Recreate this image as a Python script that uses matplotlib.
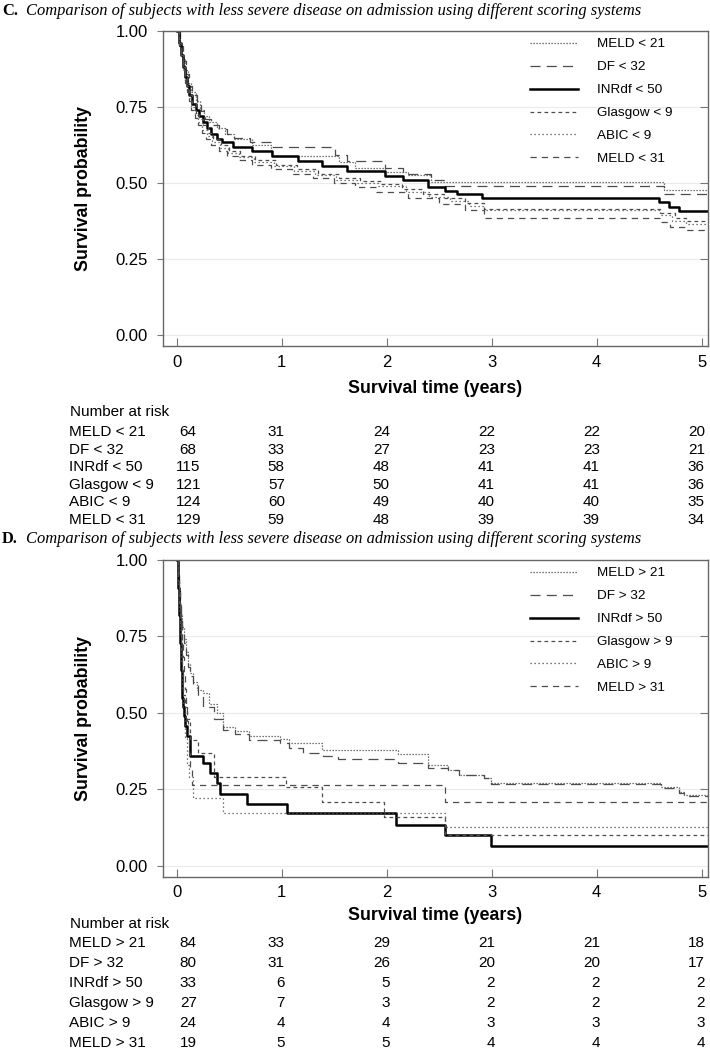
import matplotlib
matplotlib.use("Agg")
import matplotlib.pyplot as plt
import matplotlib.transforms as mtransforms
from matplotlib.lines import Line2D

plt.rcParams['font.family'] = ['Liberation Sans', 'DejaVu Sans']

W, H = 710, 1050
years = [0, 1, 2, 3, 4, 5]
end_time = 5.06
title_text = "Comparison of subjects with less severe disease on admission using different scoring systems"

labels_c = ["MELD < 21", "DF < 32", "INRdf < 50", "Glasgow < 9", "ABIC < 9", "MELD < 31"]
labels_d = ["MELD > 21", "DF > 32", "INRdf > 50", "Glasgow > 9", "ABIC > 9", "MELD > 31"]

# ---- panel C curves (step start times, survival)
meld21_c_t = [0, 0.03, 0.05, 0.08, 0.11, 0.14, 0.18, 0.22, 0.26, 0.31, 0.38, 0.46, 0.55, 0.72, 0.9, 1.55, 1.70, 1.98, 2.2, 2.42, 4.64]
meld21_c_s = [1.0, 0.95, 0.91, 0.87, 0.83, 0.80, 0.77, 0.74, 0.72, 0.70, 0.68, 0.66, 0.645, 0.625, 0.59, 0.57, 0.55, 0.535, 0.525, 0.502, 0.478]
df_c_t = [0, 0.03, 0.06, 0.09, 0.12, 0.15, 0.19, 0.23, 0.27, 0.33, 0.40, 0.48, 0.55, 0.7, 0.9, 1.51, 1.62, 1.98, 2.16, 2.42, 2.56, 4.64]
df_c_s = [1.0, 0.95, 0.90, 0.86, 0.82, 0.79, 0.76, 0.735, 0.71, 0.69, 0.676, 0.66, 0.647, 0.633, 0.617, 0.593, 0.571, 0.55, 0.528, 0.51, 0.489, 0.465]
inr_c_t = [0, 0.02, 0.04, 0.06, 0.08, 0.10, 0.12, 0.15, 0.18, 0.21, 0.25, 0.29, 0.33, 0.38, 0.43, 0.54, 0.72, 0.91, 1.16, 1.38, 1.62, 1.98, 2.16, 2.39, 2.56, 2.67, 2.91, 4.59, 4.69, 4.78]
inr_c_s = [1.0, 0.96, 0.92, 0.88, 0.85, 0.82, 0.79, 0.76, 0.74, 0.72, 0.70, 0.68, 0.66, 0.645, 0.633, 0.617, 0.604, 0.588, 0.571, 0.555, 0.538, 0.522, 0.508, 0.486, 0.473, 0.462, 0.451, 0.436, 0.42, 0.407]
glasgow_c_t = [0, 0.02, 0.04, 0.06, 0.08, 0.10, 0.12, 0.15, 0.18, 0.21, 0.25, 0.30, 0.35, 0.42, 0.50, 0.60, 0.75, 0.95, 1.15, 1.35, 1.55, 1.75, 1.95, 2.15, 2.35, 2.55, 2.75, 2.93, 4.60, 4.75, 4.85]
glasgow_c_s = [1.0, 0.96, 0.92, 0.88, 0.85, 0.82, 0.79, 0.76, 0.73, 0.71, 0.69, 0.665, 0.645, 0.625, 0.605, 0.59, 0.575, 0.56, 0.545, 0.53, 0.515, 0.505, 0.495, 0.48, 0.465, 0.45, 0.435, 0.415, 0.40, 0.385, 0.374]
abic_c_t = [0, 0.02, 0.04, 0.06, 0.08, 0.10, 0.12, 0.14, 0.17, 0.20, 0.24, 0.29, 0.34, 0.41, 0.49, 0.59, 0.74, 0.93, 1.12, 1.32, 1.52, 1.72, 1.92, 2.18, 2.40, 2.60, 2.78, 2.93, 4.60, 4.72, 4.85]
abic_c_s = [1.0, 0.955, 0.915, 0.875, 0.84, 0.81, 0.78, 0.75, 0.725, 0.70, 0.675, 0.655, 0.635, 0.615, 0.60, 0.585, 0.57, 0.555, 0.54, 0.525, 0.51, 0.50, 0.49, 0.47, 0.455, 0.44, 0.425, 0.41, 0.395, 0.375, 0.363]
meld31_c_t = [0, 0.02, 0.04, 0.06, 0.08, 0.10, 0.12, 0.14, 0.17, 0.20, 0.24, 0.28, 0.33, 0.40, 0.48, 0.58, 0.72, 0.9, 1.1, 1.3, 1.5, 1.7, 1.9, 2.2, 2.5, 2.75, 2.93, 4.6, 4.7, 4.85]
meld31_c_s = [1.0, 0.95, 0.91, 0.87, 0.83, 0.80, 0.77, 0.74, 0.715, 0.69, 0.665, 0.645, 0.625, 0.605, 0.59, 0.575, 0.56, 0.545, 0.53, 0.515, 0.50, 0.485, 0.47, 0.45, 0.43, 0.41, 0.385, 0.37, 0.355, 0.344]

# ---- panel D curves
meld21_d_t = [0, 0.01, 0.02, 0.03, 0.04, 0.05, 0.07, 0.09, 0.11, 0.13, 0.16, 0.19, 0.25, 0.31, 0.38, 0.44, 0.56, 0.69, 0.98, 1.07, 1.38, 2.11, 2.39, 2.58, 2.69, 2.93, 2.99, 4.61, 4.78, 4.83]
meld21_d_s = [1.0, 0.95, 0.90, 0.86, 0.82, 0.78, 0.74, 0.70, 0.66, 0.63, 0.60, 0.575, 0.565, 0.53, 0.50, 0.455, 0.44, 0.425, 0.415, 0.40, 0.38, 0.365, 0.33, 0.313, 0.297, 0.287, 0.27, 0.256, 0.24, 0.23]
df_d_t = [0, 0.01, 0.02, 0.03, 0.04, 0.05, 0.07, 0.09, 0.11, 0.13, 0.16, 0.2, 0.25, 0.36, 0.44, 0.56, 0.69, 0.98, 1.07, 1.2, 1.39, 1.54, 2.11, 2.39, 2.58, 2.69, 2.93, 2.99, 4.61, 4.78, 4.83]
df_d_s = [1.0, 0.95, 0.90, 0.85, 0.81, 0.77, 0.73, 0.69, 0.65, 0.62, 0.59, 0.555, 0.518, 0.48, 0.445, 0.43, 0.412, 0.40, 0.385, 0.37, 0.36, 0.348, 0.337, 0.32, 0.313, 0.297, 0.287, 0.267, 0.254, 0.238, 0.227]
inr_d_t = [0, 0.01, 0.02, 0.03, 0.04, 0.05, 0.06, 0.07, 0.08, 0.10, 0.13, 0.25, 0.32, 0.38, 0.41, 0.67, 1.05, 2.09, 2.56, 2.99]
inr_d_s = [1.0, 0.91, 0.82, 0.73, 0.64, 0.55, 0.52, 0.49, 0.456, 0.423, 0.36, 0.336, 0.304, 0.27, 0.236, 0.203, 0.171, 0.132, 0.099, 0.066]
glasgow_d_t = [0, 0.01, 0.02, 0.03, 0.04, 0.05, 0.06, 0.08, 0.10, 0.13, 0.2, 0.36, 1.04, 1.38, 1.97, 2.56]
glasgow_d_s = [1.0, 0.93, 0.85, 0.78, 0.70, 0.63, 0.56, 0.52, 0.48, 0.41, 0.37, 0.29, 0.258, 0.209, 0.159, 0.102]
abic_d_t = [0, 0.01, 0.02, 0.03, 0.04, 0.05, 0.06, 0.08, 0.10, 0.12, 0.16, 0.44, 2.56]
abic_d_s = [1.0, 0.92, 0.83, 0.75, 0.67, 0.58, 0.50, 0.42, 0.33, 0.29, 0.22, 0.171, 0.126]
meld31_d_t = [0, 0.01, 0.02, 0.03, 0.04, 0.05, 0.06, 0.07, 0.08, 0.09, 0.10, 0.11, 0.12, 0.13, 0.15, 2.56]
meld31_d_s = [1.0, 0.947, 0.895, 0.842, 0.789, 0.737, 0.684, 0.632, 0.579, 0.526, 0.474, 0.421, 0.368, 0.316, 0.264, 0.209]

# ---- number at risk
risk_c_meld21 = [64, 31, 24, 22, 22, 20]
risk_c_df = [68, 33, 27, 23, 23, 21]
risk_c_inr = [115, 58, 48, 41, 41, 36]
risk_c_glasgow = [121, 57, 50, 41, 41, 36]
risk_c_abic = [124, 60, 49, 40, 40, 35]
risk_c_meld31 = [129, 59, 48, 39, 39, 34]

risk_d_meld21 = [84, 33, 29, 21, 21, 18]
risk_d_df = [80, 31, 26, 20, 20, 17]
risk_d_inr = [33, 6, 5, 2, 2, 2]
risk_d_glasgow = [27, 7, 3, 2, 2, 2]
risk_d_abic = [24, 4, 4, 3, 3, 3]
risk_d_meld31 = [19, 5, 5, 4, 4, 4]

# line styles, same order as the labels
gray = "#4d4d4d"
line_styles = [
    dict(color=gray, lw=0.9, ls=(0, (1, 1.4))),
    dict(color=gray, lw=0.9, ls=(0, (8, 5))),
    dict(color="black", lw=1.8, ls="-"),
    dict(color=gray, lw=0.9, ls=(0, (3, 2.6))),
    dict(color=gray, lw=0.9, ls=(0, (1, 2.2))),
    dict(color=gray, lw=0.9, ls=(0, (5, 4))),
]


def fy(px):
    return 1 - px / H


def fx(px):
    return px / W


def draw_panel(fig, letter, top, bottom, curves, labels, risk_rows, lay):
    ax = fig.add_axes([fx(163), fy(bottom), fx(708) - fx(163), fy(top) - fy(bottom)])
    for (t, s), st in zip(curves, line_styles):
        ax.plot(t + [end_time], s + [s[-1]], drawstyle="steps-post", **st)

    ax.set_xlim(-0.13, end_time)
    ax.set_ylim(-0.037, 1.0)
    ax.set_yticks([0, 0.25, 0.5, 0.75, 1.0])
    ax.set_yticklabels(["0.00", "0.25", "0.50", "0.75", "1.00"])
    ax.set_xticks(years)
    ax.tick_params(axis="y", direction="out", length=4, color="#777777", labelsize=12, pad=7)
    ax.tick_params(axis="x", direction="in", length=6, color="#777777", labelsize=12, pad=lay["xpad"])
    ax.grid(axis="y", color="#ebebeb", lw=0.8)
    ax.set_axisbelow(True)
    for sp in ax.spines.values():
        sp.set_color("#666666")
        sp.set_linewidth(1.0)
    ax.set_ylabel("Survival probability", fontsize=12.8, fontweight="bold", labelpad=17)

    ax2 = ax.twinx()
    ax2.set_ylim(ax.get_ylim())
    ax2.set_yticks([0.25, 0.5, 0.75])
    ax2.tick_params(axis="y", direction="in", length=6, color="#777777", labelright=False)
    for sp in ax2.spines.values():
        sp.set_visible(False)

    handles = [Line2D([], [], **st) for st in line_styles]
    ax2.legend(handles, labels, loc="upper left", bbox_to_anchor=(fx(530), fy(top + 7)),
               bbox_transform=fig.transFigure, frameon=False, fontsize=9.7,
               borderpad=0, borderaxespad=0, handlelength=3.55, handletextpad=1.4,
               labelspacing=0.78)

    # titles and labels
    fig.text(fx(2), fy(lay["title"]), letter, fontfamily="Liberation Serif",
             fontweight="bold", fontsize=11.9, va="center")
    fig.text(fx(26), fy(lay["title"]), title_text, fontfamily="Liberation Serif",
             fontstyle="italic", fontsize=11.9, va="center")
    fig.text(0.5 * (fx(163) + fx(708)), fy(lay["xlabel"]), "Survival time (years)",
             fontsize=12.8, fontweight="bold", ha="center", va="center")

    # number at risk table
    trans = mtransforms.blended_transform_factory(ax.transData, fig.transFigure)
    fig.text(fx(70), fy(lay["nar"]), "Number at risk", fontsize=11, va="center")
    for i, (lab, row) in enumerate(zip(labels, risk_rows)):
        y = fy(lay["row0"] + i * lay["step"])
        fig.text(fx(69), y, lab, fontsize=11, va="center")
        for j, (yr, n) in enumerate(zip(years, row)):
            if j == 0:
                fig.text(yr + 0.11, y, str(n), fontsize=11, va="center", ha="center",
                         transform=trans)
            else:
                fig.text(yr + 0.03, y, str(n), fontsize=11, va="center", ha="right",
                         transform=trans)
    return ax


fig = plt.figure(figsize=(W / 100, H / 100), dpi=100)

curves_c = [(meld21_c_t, meld21_c_s), (df_c_t, df_c_s), (inr_c_t, inr_c_s),
            (glasgow_c_t, glasgow_c_s), (abic_c_t, abic_c_s), (meld31_c_t, meld31_c_s)]
risk_c = [risk_c_meld21, risk_c_df, risk_c_inr, risk_c_glasgow, risk_c_abic, risk_c_meld31]
draw_panel(fig, "C.", 31, 346, curves_c, labels_c, risk_c,
           dict(title=11, xlabel=388, nar=412, row0=432, step=17.6, xpad=6.5))

curves_d = [(meld21_d_t, meld21_d_s), (df_d_t, df_d_s), (inr_d_t, inr_d_s),
            (glasgow_d_t, glasgow_d_s), (abic_d_t, abic_d_s), (meld31_d_t, meld31_d_s)]
risk_d = [risk_d_meld21, risk_d_df, risk_d_inr, risk_d_glasgow, risk_d_abic, risk_d_meld31]
draw_panel(fig, "D.", 560, 877, curves_d, labels_d, risk_d,
           dict(title=539, xlabel=915, nar=924, row0=943, step=20, xpad=5.5))

fig.savefig("out.png", dpi=100)
